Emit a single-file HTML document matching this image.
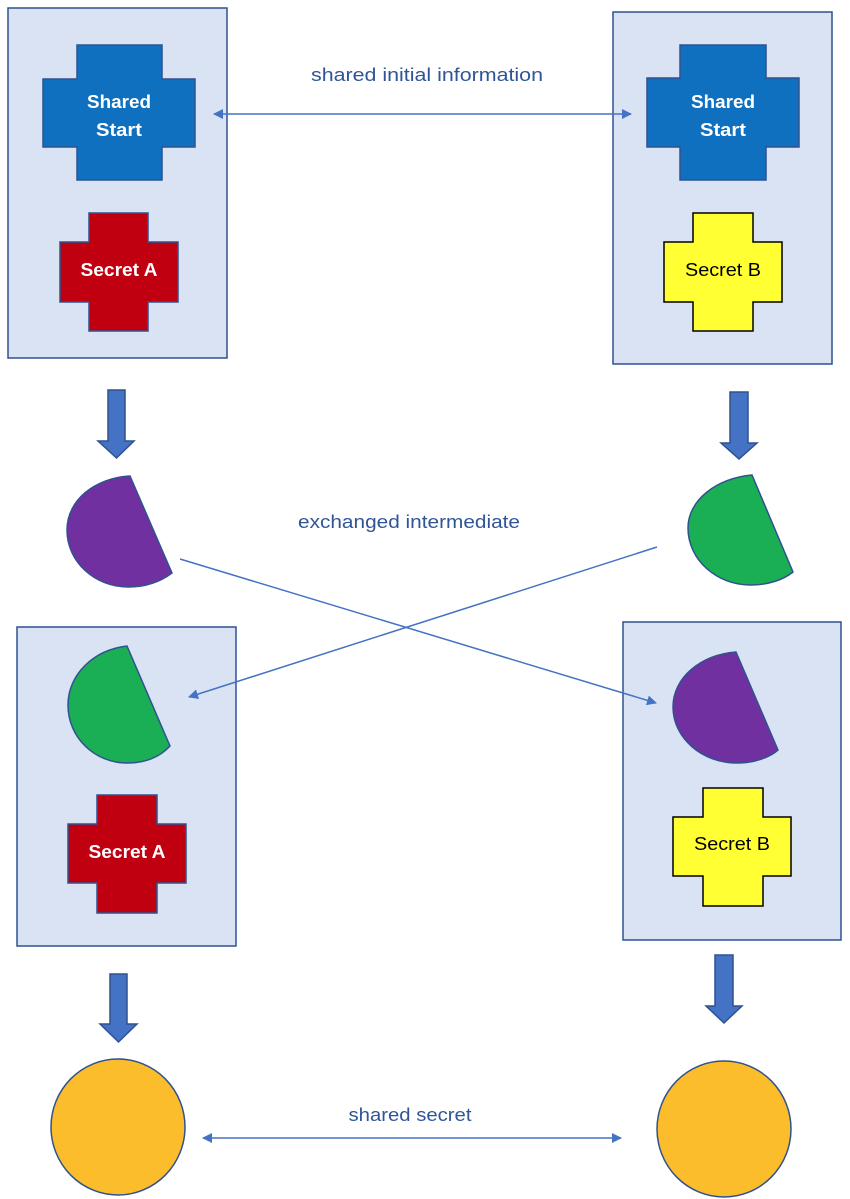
<!DOCTYPE html>
<html><head><meta charset="utf-8"><style>html,body{margin:0;padding:0;background:#fff}svg{display:block}</style></head>
<body>
<svg width="850" height="1199" viewBox="0 0 850 1199" xmlns="http://www.w3.org/2000/svg" font-family="Liberation Sans, sans-serif">
<defs>
<marker id="ah" viewBox="0 0 10 10" refX="9" refY="5" markerWidth="10" markerHeight="10" markerUnits="userSpaceOnUse" orient="auto-start-reverse"><path d="M0,0 L10,5 L0,10 z" fill="#4472C4"/></marker>
</defs>
<g stroke="#2F528F" stroke-width="1.5">
<rect x="8" y="8" width="219" height="350" fill="#DAE3F3"/>
<rect x="613" y="12" width="219" height="352" fill="#DAE3F3"/>
<rect x="17" y="627" width="219" height="319" fill="#DAE3F3"/>
<rect x="623" y="622" width="218" height="318" fill="#DAE3F3"/>
<!-- blue crosses -->
<path d="M77,45 H162 V79 H195 V147 H162 V180 H77 V147 H43 V79 H77 Z" fill="#1070C0"/>
<path d="M680,45 H766 V78 H799 V147 H766 V180 H680 V147 H647 V78 H680 Z" fill="#1070C0"/>
<!-- red crosses -->
<path d="M89,213 H148 V242 H178 V302 H148 V331 H89 V302 H60 V242 H89 Z" fill="#C00010"/>
<path d="M97,795 H157 V824 H186 V883 H157 V913 H97 V883 H68 V824 H97 Z" fill="#C00010"/>
<!-- chords -->
<path d="M130,476 C95,478 67,500 67,530 C67,562 95,587 128,587 C145,587 160,582 172,573 Z" fill="#7030A0"/>
<path d="M752,475 C717,478 688,500 688,528 C688,560 717,585 750,585 C768,585 783,580 793,572 Z" fill="#1AAF54"/>
<path d="M127,646 C93,650 68,675 68,705 C68,738 95,763 127,763 C145,763 160,757 170,746 Z" fill="#1AAF54"/>
<path d="M736,652 C700,655 673,678 673,707 C673,738 702,763 737,763 C755,763 770,757 778,750 Z" fill="#7030A0"/>
<!-- circles -->
<ellipse cx="118" cy="1127" rx="67" ry="68" fill="#FBBD2B"/>
<ellipse cx="724" cy="1129" rx="67" ry="68" fill="#FBBD2B"/>
<!-- down arrows -->
<path d="M108,390 H125 V441 H134 L116.5,458 L98,441 H108 Z" fill="#4472C4"/>
<path d="M730,392 H748 V443 H757 L739,459 L721,443 H730 Z" fill="#4472C4"/>
<path d="M110,974 H127 V1024 H137 L118.5,1042 L100,1024 H110 Z" fill="#4472C4"/>
<path d="M715,955 H733 V1006 H742 L724,1023 L706,1006 H715 Z" fill="#4472C4"/>
</g>
<g stroke="#000" stroke-width="1.5" fill="#FFFF33">
<path d="M693,213 H753 V242 H782 V302 H753 V331 H693 V302 H664 V242 H693 Z"/>
<path d="M703,788 H763 V817 H791 V876 H763 V906 H703 V876 H673 V817 H703 Z"/>
</g>
<!-- connectors -->
<g stroke="#4472C4" stroke-width="1.5" fill="none">
<line x1="214" y1="114" x2="631" y2="114" marker-start="url(#ah)" marker-end="url(#ah)"/>
<line x1="180" y1="559" x2="656" y2="703" marker-end="url(#ah)"/>
<line x1="657" y1="547" x2="189" y2="697" marker-end="url(#ah)"/>
<line x1="203" y1="1138" x2="621" y2="1138" marker-start="url(#ah)" marker-end="url(#ah)"/>
</g>
<g fill="#2F5597" font-size="18" text-anchor="middle">
<text x="427" y="81" textLength="232" lengthAdjust="spacingAndGlyphs">shared initial information</text>
<text x="409" y="528" textLength="222" lengthAdjust="spacingAndGlyphs">exchanged intermediate</text>
<text x="410" y="1121" textLength="123" lengthAdjust="spacingAndGlyphs">shared secret</text>
</g>
<g fill="#fff" font-size="18" font-weight="bold" text-anchor="middle">
<text x="119" y="108" textLength="64" lengthAdjust="spacingAndGlyphs">Shared</text>
<text x="119" y="136" textLength="46" lengthAdjust="spacingAndGlyphs">Start</text>
<text x="723" y="108" textLength="64" lengthAdjust="spacingAndGlyphs">Shared</text>
<text x="723" y="136" textLength="46" lengthAdjust="spacingAndGlyphs">Start</text>
<text x="119" y="276" textLength="77" lengthAdjust="spacingAndGlyphs">Secret A</text>
<text x="127" y="858" textLength="77" lengthAdjust="spacingAndGlyphs">Secret A</text>
</g>
<g fill="#000" font-size="18" text-anchor="middle">
<text x="723" y="276" textLength="76" lengthAdjust="spacingAndGlyphs">Secret B</text>
<text x="732" y="850" textLength="76" lengthAdjust="spacingAndGlyphs">Secret B</text>
</g>
</svg>
</body></html>
